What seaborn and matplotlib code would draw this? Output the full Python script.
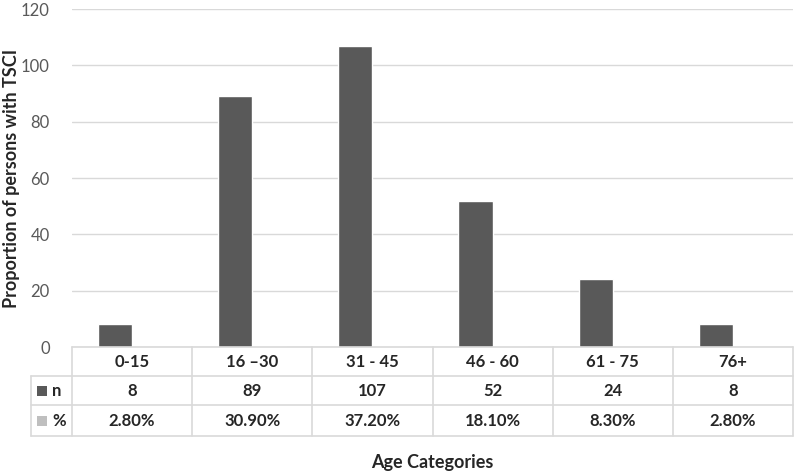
import matplotlib
matplotlib.use("Agg")
import matplotlib.pyplot as plt
import seaborn as sns
import pandas as pd
from matplotlib.lines import Line2D
from matplotlib.patches import Rectangle

# data
age_groups = ["0-15", "16 \u201330", "31 - 45", "46 - 60", "61 - 75", "76+"]
n_values = [8, 89, 107, 52, 24, 8]
pct_values = [0.028, 0.309, 0.372, 0.181, 0.083, 0.028]
pct_labels = ["2.80%", "30.90%", "37.20%", "18.10%", "8.30%", "2.80%"]
y_ticks = [0, 20, 40, 60, 80, 100, 120]

dark = "#595959"
light = "#BFBFBF"
grid_col = "#D9D9D9"

sns.set_theme(style="white")
plt.rcParams["font.family"] = ["Lato", "DejaVu Sans"]

df = pd.DataFrame({
    "age": age_groups * 2,
    "value": n_values + pct_values,
    "series": ["n"] * len(age_groups) + ["%"] * len(age_groups),
})

fig = plt.figure(figsize=(8, 4.73), dpi=100)
W, H = 800, 473
left_px, right_px, top_px, bottom_px = 72, 793, 9, 347
ax = fig.add_axes([left_px / W, 1 - bottom_px / H,
                   (right_px - left_px) / W, (bottom_px - top_px) / H])

sns.barplot(data=df, x="age", y="value", hue="series", order=age_groups,
            palette={"n": dark, "%": light}, width=0.57, ax=ax,
            legend=False, saturation=1)

ax.set_ylim(0, 120)
ax.set_xlim(-0.5, len(age_groups) - 0.5)
ax.set_yticks(y_ticks)
ax.set_yticklabels([str(t) for t in y_ticks], color=dark, fontsize=12)
ax.tick_params(axis="y", length=0, pad=16)
ax.set_xticks([])
ax.set_xlabel("")
ax.set_ylabel("")
ax.yaxis.grid(True, color=grid_col, linewidth=1)
ax.set_axisbelow(True)
for s in ax.spines.values():
    s.set_visible(False)

# data table below the axis, drawn in figure pixel space
def fx(px):
    return px / W

def fy(py):
    return 1 - py / H

rows_px = [347, 376, 405, 436]
legend_left = 31
col_w = (right_px - left_px) / len(age_groups)
line_kw = dict(color=grid_col, linewidth=1.2, transform=fig.transFigure)

# horizontal lines
fig.add_artist(Line2D([fx(left_px), fx(right_px)], [fy(rows_px[0])] * 2, **line_kw))
for r in rows_px[1:]:
    fig.add_artist(Line2D([fx(legend_left), fx(right_px)], [fy(r)] * 2, **line_kw))
# vertical lines
for i in range(len(age_groups) + 1):
    x = left_px + i * col_w
    fig.add_artist(Line2D([fx(x)] * 2, [fy(rows_px[0]), fy(rows_px[-1])], **line_kw))
fig.add_artist(Line2D([fx(legend_left)] * 2, [fy(rows_px[1]), fy(rows_px[-1])], **line_kw))

txt_kw = dict(ha="center", va="center", fontsize=12, fontweight="bold",
              color="#262626", transform=fig.transFigure)
for i, (g, n, p) in enumerate(zip(age_groups, n_values, pct_labels)):
    cx = fx(left_px + (i + 0.5) * col_w)
    fig.text(cx, fy((rows_px[0] + rows_px[1]) / 2), g, **txt_kw)
    fig.text(cx, fy((rows_px[1] + rows_px[2]) / 2), str(n), **txt_kw)
    fig.text(cx, fy((rows_px[2] + rows_px[3]) / 2), p, **txt_kw)

# legend keys inside the table
for r0, r1, col, lab in [(rows_px[1], rows_px[2], dark, "n"),
                         (rows_px[2], rows_px[3], light, "%")]:
    cy = (r0 + r1) / 2
    fig.add_artist(Rectangle((fx(37), fy(cy + 5)), fx(10), 10 / H,
                             facecolor=col, edgecolor="none",
                             transform=fig.transFigure))
    fig.text(fx(52), fy(cy), lab, ha="left", va="center", fontsize=12,
             fontweight="bold", color="#262626", transform=fig.transFigure)

fig.text(fx(432), fy(462), "Age Categories", ha="center", va="center",
         fontsize=13, fontweight="bold", color="#262626")
fig.text(fx(12), fy(178), "Proportion of persons with TSCI", ha="center",
         va="center", rotation=90, fontsize=13, fontweight="bold",
         color="#262626")

fig.savefig("out.png", dpi=100)
